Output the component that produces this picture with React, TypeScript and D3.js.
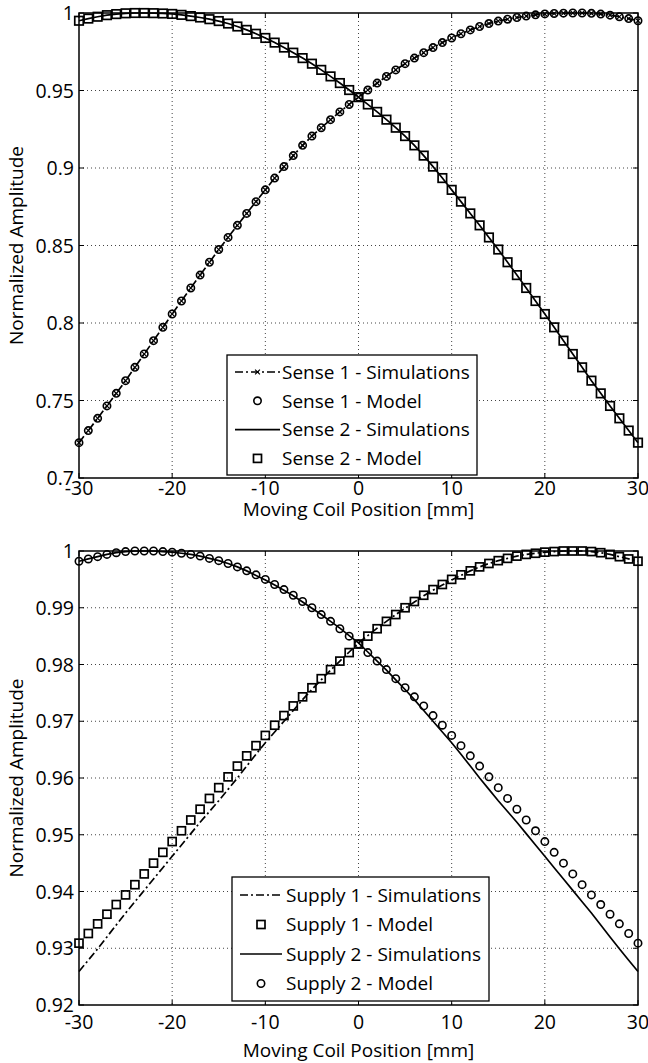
import React, { useRef, useEffect } from 'react';
import * as d3 from 'd3';

// coil positions in mm, one sample per mm
const positions = d3.range(-30, 31);

// ---- top chart: sense coils ----
const sense1Model = [
  0.7228, 0.7306, 0.7385, 0.7465, 0.7546, 0.7628, 0.7714, 0.7800, 0.7886, 0.7972,
  0.8058, 0.8142, 0.8226, 0.8309, 0.8392, 0.8474, 0.8552, 0.8630, 0.8707, 0.8783,
  0.8859, 0.8935, 0.9009, 0.9080, 0.9146, 0.9206, 0.9260, 0.9312, 0.9362, 0.9410,
  0.9457, 0.9503, 0.9548, 0.9591, 0.9633, 0.9673, 0.9709, 0.9744, 0.9777, 0.9809,
  0.9839, 0.9866, 0.9891, 0.9913, 0.9932, 0.9948, 0.9960, 0.9971, 0.9980, 0.9988,
  0.9994, 0.9997, 0.9999, 1.0000, 1.0000, 0.9998, 0.9993, 0.9986, 0.9976, 0.9964, 0.9950,
];
const sense1Sim = sense1Model; // simulation lies on the model
const sense2Model = [
  0.9950, 0.9964, 0.9976, 0.9986, 0.9993, 0.9998, 1.0000, 1.0000, 0.9999, 0.9997, 0.9994,
  0.9988, 0.9980, 0.9971, 0.9960, 0.9948, 0.9932, 0.9913, 0.9891, 0.9866, 0.9839,
  0.9809, 0.9777, 0.9744, 0.9709, 0.9673, 0.9633, 0.9591, 0.9548, 0.9503, 0.9457,
  0.9410, 0.9362, 0.9312, 0.9260, 0.9206, 0.9146, 0.9080, 0.9009, 0.8935, 0.8859,
  0.8783, 0.8707, 0.8630, 0.8552, 0.8474, 0.8392, 0.8309, 0.8226, 0.8142, 0.8058,
  0.7972, 0.7886, 0.7800, 0.7714, 0.7628, 0.7546, 0.7465, 0.7385, 0.7306, 0.7228,
];
const sense2Sim = sense2Model;
const topTicks = [0.7, 0.75, 0.8, 0.85, 0.9, 0.95, 1];
const topTickLabels = ['0.7', '0.75', '0.8', '0.85', '0.9', '0.95', '1'];
const topLegend = ['Sense 1 - Simulations', 'Sense 1 - Model', 'Sense 2 - Simulations', 'Sense 2 - Model'];

// ---- bottom chart: supply coils ----
const supply1Sim = [
  0.9259, 0.9279, 0.9299, 0.9320, 0.9341, 0.9362, 0.9382, 0.9402, 0.9422, 0.9442,
  0.9462, 0.9482, 0.9502, 0.9522, 0.9541, 0.9560, 0.9580, 0.9600, 0.9621, 0.9642,
  0.9662, 0.9681, 0.9700, 0.9719, 0.9738, 0.9756, 0.9773, 0.9790, 0.9806, 0.9822,
  0.9838, 0.9851, 0.9864, 0.9876, 0.9888, 0.9899, 0.9910, 0.9921, 0.9931, 0.9940,
  0.9949, 0.9957, 0.9965, 0.9972, 0.9978, 0.9983, 0.9987, 0.9991, 0.9994, 0.9996,
  0.9998, 0.9999, 1.0000, 1.0000, 1.0000, 0.9999, 0.9997, 0.9994, 0.9990, 0.9986, 0.9982,
];
const supply1Model = [
  0.9309, 0.9326, 0.9343, 0.9360, 0.9377, 0.9394, 0.9412, 0.9431, 0.9450, 0.9469,
  0.9488, 0.9507, 0.9526, 0.9545, 0.9564, 0.9583, 0.9602, 0.9621, 0.9639, 0.9657,
  0.9675, 0.9693, 0.9710, 0.9727, 0.9743, 0.9759, 0.9775, 0.9791, 0.9806, 0.9821,
  0.9836, 0.9850, 0.9863, 0.9876, 0.9888, 0.9900, 0.9911, 0.9922, 0.9932, 0.9941,
  0.9950, 0.9958, 0.9965, 0.9972, 0.9978, 0.9983, 0.9987, 0.9991, 0.9994, 0.9996,
  0.9998, 0.9999, 1.0000, 1.0000, 1.0000, 0.9999, 0.9997, 0.9994, 0.9990, 0.9986, 0.9982,
];
const supply2Sim = [
  0.9982, 0.9986, 0.9990, 0.9994, 0.9997, 0.9999, 1.0000, 1.0000, 1.0000, 0.9999,
  0.9998, 0.9996, 0.9994, 0.9991, 0.9987, 0.9983, 0.9978, 0.9972, 0.9965, 0.9957,
  0.9949, 0.9940, 0.9931, 0.9921, 0.9910, 0.9899, 0.9888, 0.9876, 0.9864, 0.9851,
  0.9838, 0.9822, 0.9806, 0.9790, 0.9773, 0.9756, 0.9738, 0.9719, 0.9700, 0.9681,
  0.9662, 0.9642, 0.9621, 0.9600, 0.9580, 0.9560, 0.9541, 0.9522, 0.9502, 0.9482,
  0.9462, 0.9442, 0.9422, 0.9402, 0.9382, 0.9362, 0.9341, 0.9320, 0.9299, 0.9279, 0.9259,
];
const supply2Model = [
  0.9982, 0.9986, 0.9990, 0.9994, 0.9997, 0.9999, 1.0000, 1.0000, 1.0000, 0.9999,
  0.9998, 0.9996, 0.9994, 0.9991, 0.9987, 0.9983, 0.9978, 0.9972, 0.9965, 0.9958,
  0.9950, 0.9941, 0.9932, 0.9922, 0.9911, 0.9900, 0.9888, 0.9876, 0.9863, 0.9850,
  0.9836, 0.9821, 0.9806, 0.9791, 0.9775, 0.9759, 0.9743, 0.9727, 0.9710, 0.9693,
  0.9675, 0.9657, 0.9639, 0.9621, 0.9602, 0.9583, 0.9564, 0.9545, 0.9526, 0.9507,
  0.9488, 0.9469, 0.9450, 0.9431, 0.9412, 0.9394, 0.9377, 0.9360, 0.9343, 0.9326, 0.9309,
];
const bottomTicks = [0.92, 0.93, 0.94, 0.95, 0.96, 0.97, 0.98, 0.99, 1];
const bottomTickLabels = ['0.92', '0.93', '0.94', '0.95', '0.96', '0.97', '0.98', '0.99', '1'];
const bottomLegend = ['Supply 1 - Simulations', 'Supply 1 - Model', 'Supply 2 - Simulations', 'Supply 2 - Model'];

const xTicks = [-30, -20, -10, 0, 10, 20, 30];
const xTickLabels = ['-30', '-20', '-10', '0', '10', '20', '30'];

const FONT = '"Open Sans", "Noto Sans", sans-serif';
const DASHDOT = '8,3,2,3';

function App() {
  const ref = useRef<SVGSVGElement>(null);

  useEffect(() => {
    const width = 648;
    const height = 1063;
    const left = 79;
    const right = 638;

    const svg = d3.select(ref.current);
    svg.selectAll('*').remove();
    svg.append('rect').attr('width', width).attr('height', height).attr('fill', '#fff');

    const x = d3.scaleLinear().domain([-30, 30]).range([left, right]);

    const drawMarker = (g, kind, cx, cy, big) => {
      if (kind === 'circle') {
        g.append('circle').attr('cx', cx).attr('cy', cy).attr('r', 3.7)
          .attr('fill', 'none').attr('stroke', '#000').attr('stroke-width', 1.6);
      } else if (kind === 'square') {
        const s = big ? 8.5 : 8;
        g.append('rect').attr('x', cx - s / 2).attr('y', cy - s / 2).attr('width', s).attr('height', s)
          .attr('fill', 'none').attr('stroke', '#000').attr('stroke-width', 1.7);
      } else if (kind === 'x') {
        const s = 2.4;
        g.append('path')
          .attr('d', `M${cx - s},${cy - s}L${cx + s},${cy + s}M${cx - s},${cy + s}L${cx + s},${cy - s}`)
          .attr('stroke', '#000').attr('stroke-width', 1.2);
      }
    };

    const panel = (cfg) => {
      const y = d3.scaleLinear().domain(cfg.domain).range([cfg.bottom, cfg.top]);
      const g = svg.append('g');

      // grid
      g.selectAll('.vgrid').data(xTicks.slice(1, -1)).join('line')
        .attr('x1', d => x(d)).attr('x2', d => x(d))
        .attr('y1', cfg.top).attr('y2', cfg.bottom)
        .attr('stroke', '#444').attr('stroke-width', 1).attr('stroke-dasharray', '1,3');
      g.selectAll('.hgrid').data(cfg.ticks.slice(1, -1)).join('line')
        .attr('x1', left).attr('x2', right)
        .attr('y1', d => y(d)).attr('y2', d => y(d))
        .attr('stroke', '#444').attr('stroke-width', 1).attr('stroke-dasharray', '1,3');

      // inward ticks on all four sides
      const tk = 5;
      xTicks.forEach(t => {
        g.append('line').attr('x1', x(t)).attr('x2', x(t)).attr('y1', cfg.bottom).attr('y2', cfg.bottom - tk).attr('stroke', '#000');
        g.append('line').attr('x1', x(t)).attr('x2', x(t)).attr('y1', cfg.top).attr('y2', cfg.top + tk).attr('stroke', '#000');
      });
      cfg.ticks.forEach(t => {
        g.append('line').attr('x1', left).attr('x2', left + tk).attr('y1', y(t)).attr('y2', y(t)).attr('stroke', '#000');
        g.append('line').attr('x1', right).attr('x2', right - tk).attr('y1', y(t)).attr('y2', y(t)).attr('stroke', '#000');
      });

      // series
      cfg.series.forEach(s => {
        if (s.line) {
          const line = d3.line<number>().x((_, i) => x(positions[i])).y(d => y(d));
          g.append('path').attr('d', line(s.values)).attr('fill', 'none')
            .attr('stroke', '#000').attr('stroke-width', 1.7)
            .attr('stroke-dasharray', s.line === 'dashdot' ? DASHDOT : null);
        }
        if (s.marker) {
          s.values.forEach((v, i) => drawMarker(g, s.marker, x(positions[i]), y(v), cfg.bigSquares));
        }
      });

      // frame
      g.append('rect').attr('x', left).attr('y', cfg.top).attr('width', right - left).attr('height', cfg.bottom - cfg.top)
        .attr('fill', 'none').attr('stroke', '#000').attr('stroke-width', 1.5);

      // tick labels
      g.selectAll('.ylab').data(cfg.ticks).join('text')
        .attr('x', left - 5).attr('y', d => y(d)).attr('dy', '0.36em')
        .attr('text-anchor', 'end').attr('font-family', FONT).attr('font-size', 19.5)
        .text((_, i) => cfg.tickLabels[i]);
      g.selectAll('.xlab').data(xTicks).join('text')
        .attr('x', d => x(d)).attr('y', cfg.xLabelY)
        .attr('text-anchor', 'middle').attr('font-family', FONT).attr('font-size', 19.5)
        .text((_, i) => xTickLabels[i]);

      // axis titles
      g.append('text').attr('x', (left + right) / 2).attr('y', cfg.xTitleY)
        .attr('text-anchor', 'middle').attr('font-family', FONT).attr('font-size', 19)
        .text('Moving Coil Position [mm]');
      g.append('text')
        .attr('transform', `translate(23,${(cfg.top + cfg.bottom) / 2}) rotate(-90)`)
        .attr('text-anchor', 'middle').attr('font-family', FONT).attr('font-size', 19)
        .text('Normalized Amplitude');

      // legend
      const L = cfg.legend;
      const lg = g.append('g');
      lg.append('rect').attr('x', L.x).attr('y', L.y).attr('width', L.w).attr('height', L.h)
        .attr('fill', '#fff').attr('stroke', '#000').attr('stroke-width', 1.3);
      cfg.series.forEach((s, i) => {
        const ry = L.row0 + i * L.dy;
        if (s.line) {
          lg.append('line').attr('x1', L.line0).attr('x2', L.line1).attr('y1', ry).attr('y2', ry)
            .attr('stroke', '#000').attr('stroke-width', 1.7)
            .attr('stroke-dasharray', s.line === 'dashdot' ? DASHDOT : null);
        }
        if (s.marker) drawMarker(lg, s.marker, (L.line0 + L.line1) / 2, ry, false);
        lg.append('text').attr('x', L.textX).attr('y', ry).attr('dy', '0.36em')
          .attr('font-family', FONT).attr('font-size', 19)
          .text(cfg.labels[i]);
      });
    };

    panel({
      top: 13, bottom: 478, domain: [0.7, 1],
      ticks: topTicks, tickLabels: topTickLabels,
      xLabelY: 495, xTitleY: 516, bigSquares: true,
      labels: topLegend,
      series: [
        { values: sense1Sim, line: 'dashdot', marker: 'x' },
        { values: sense1Model, marker: 'circle' },
        { values: sense2Sim, line: 'solid' },
        { values: sense2Model, marker: 'square' },
      ],
      legend: { x: 227, y: 355, w: 250, h: 120, row0: 372, dy: 28.8, line0: 235, line1: 280, textX: 282 },
    });

    panel({
      top: 551, bottom: 1005, domain: [0.92, 1],
      ticks: bottomTicks, tickLabels: bottomTickLabels,
      xLabelY: 1029, xTitleY: 1057, bigSquares: false,
      labels: bottomLegend,
      series: [
        { values: supply1Sim, line: 'dashdot' },
        { values: supply1Model, marker: 'square' },
        { values: supply2Sim, line: 'solid' },
        { values: supply2Model, marker: 'circle' },
      ],
      legend: { x: 232, y: 877, w: 257, h: 124, row0: 895, dy: 29.5, line0: 240, line1: 282, textX: 286 },
    });
  }, []);

  return (
    <svg ref={ref} width={648} height={1063}
      style={{ position: 'absolute', left: 0, top: 0, display: 'block' }} />
  );
}

export default App;
